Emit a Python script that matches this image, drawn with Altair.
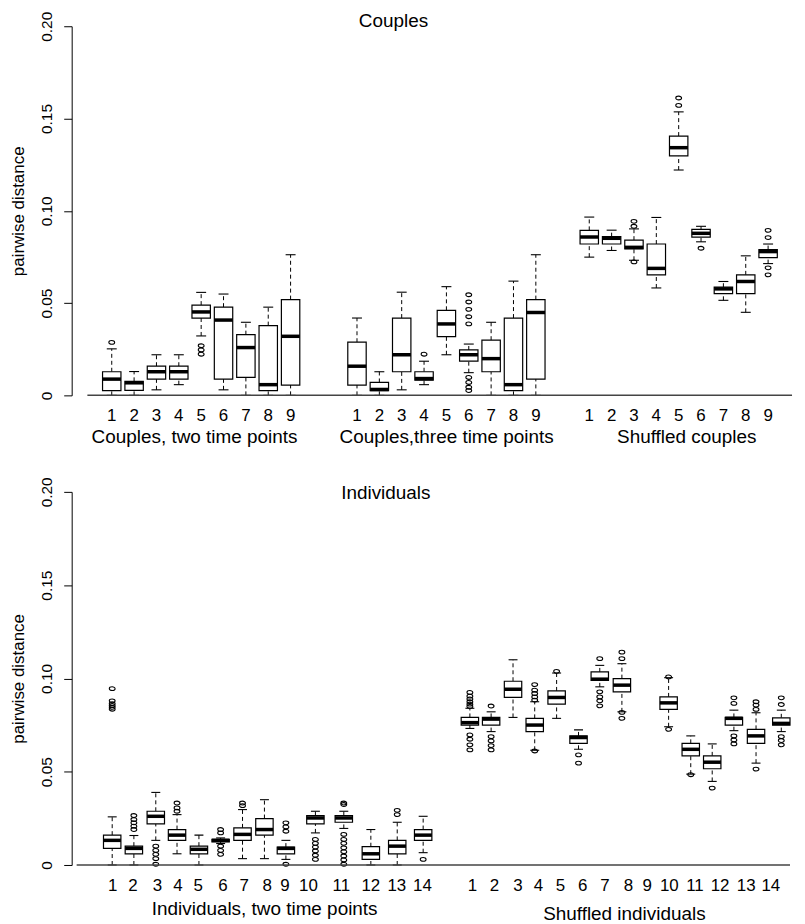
import altair as alt
import pandas as pd

FONT = "Liberation Sans"

# ---------------- Couples (top panel) ----------------
couples_title = "Couples"
couples_groups = ["Couples, two time points", "Couples,three time points", "Shuffled couples"]
couples_group_start = [1.57, 12.54, 22.93]      # position ("at") of item 1 in each group
couples_group_label_x = [5.27, 16.55, 27.29]
couples_items = [str(i) for i in range(1, 10)]

couples_lower = [0.0, 0.0, 0.003, 0.0058, 0.0322, 0.003, 0.0, 0.0, 0.0,
                 0.0, 0.0, 0.003, 0.0058, 0.022, 0.0123, 0.0, 0.0, 0.0,
                 0.0749, 0.0785, 0.0732, 0.0582, 0.1221, 0.0832, 0.0515, 0.045, 0.0714]
couples_q1 = [0.0026, 0.0027, 0.0088, 0.0088, 0.0419, 0.0088, 0.0097, 0.0026, 0.0056,
              0.0056, 0.0026, 0.0128, 0.0083, 0.0318, 0.0186, 0.0128, 0.0026, 0.0088,
              0.082, 0.082, 0.0793, 0.0653, 0.1298, 0.0857, 0.0551, 0.0551, 0.0746]
couples_median = [0.0088, 0.0068, 0.0128, 0.0128, 0.0452, 0.0408, 0.0259, 0.0058, 0.032,
                  0.0158, 0.0032, 0.022, 0.0091, 0.0387, 0.022, 0.0199, 0.0058, 0.0449,
                  0.0858, 0.0851, 0.0802, 0.0688, 0.1342, 0.0878, 0.0577, 0.0617, 0.0779]
couples_q3 = [0.0128, 0.0076, 0.0158, 0.0158, 0.0489, 0.0478, 0.0329, 0.0378, 0.0519,
              0.0288, 0.007, 0.0419, 0.0128, 0.0461, 0.0246, 0.0299, 0.0419, 0.0519,
              0.0894, 0.086, 0.0841, 0.082, 0.1405, 0.0899, 0.0586, 0.0653, 0.079]
couples_upper = [0.0252, 0.0129, 0.022, 0.022, 0.0558, 0.0549, 0.0396, 0.0478, 0.0762,
                 0.0419, 0.0128, 0.0559, 0.0185, 0.0589, 0.0278, 0.0396, 0.0619, 0.0762,
                 0.0966, 0.0895, 0.0902, 0.0964, 0.1536, 0.0916, 0.0617, 0.0756, 0.082]
couples_outliers = [[0.0287], [], [], [], [0.0269, 0.0246, 0.0223], [], [], [], [],
                    [], [], [], [0.0223], [],
                    [0.0097, 0.007, 0.0044, 0.0026, 0.0387, 0.0426, 0.0466, 0.0506, 0.0545],
                    [], [], [],
                    [], [], [0.0943, 0.0916, 0.0723], [], [0.1611, 0.1571], [0.0797], [], [],
                    [0.0894, 0.0855, 0.0691, 0.0653]]

# ---------------- Individuals (bottom panel) ----------------
indiv_title = "Individuals"
indiv_groups = ["Individuals, two time points", "Shuffled individuals"]
indiv_group_label_x = [8.41, 24.50]
indiv_items = [str(i) for i in range(1, 15)]
indiv_box_at = [1.59, 2.56, 3.54, 4.49, 5.47, 6.44, 7.42, 8.40, 9.36, 10.68, 11.95, 13.16, 14.34, 15.50,
                17.59, 18.54, 19.52, 20.49, 21.47, 22.45, 23.40, 24.39, 26.48, 27.47, 28.43, 29.40, 30.39, 31.52]
indiv_label_at = [1.61, 2.52, 3.61, 4.53, 5.44, 6.54, 7.49, 8.52, 9.32, 10.37, 11.84, 13.16, 14.32, 15.47,
                  17.70, 18.69, 19.74, 20.66, 21.64, 22.64, 23.63, 24.68, 25.52, 26.51, 27.66, 28.78, 29.95, 31.05]

indiv_lower = [0.0, 0.0, 0.0132, 0.006, 0.0, 0.0115, 0.0034, 0.0034, 0.003, 0.0172, 0.0196, 0.0, 0.0, 0.0066,
               0.0732, 0.0715, 0.0791, 0.0615, 0.0786, 0.062, 0.0955, 0.0821, 0.0741, 0.0487, 0.0448, 0.072, 0.0546, 0.0715]
indiv_q1 = [0.0089, 0.006, 0.022, 0.0132, 0.006, 0.0124, 0.0132, 0.016, 0.006, 0.022, 0.0229, 0.003, 0.006, 0.0132,
            0.075, 0.075, 0.0898, 0.0715, 0.0862, 0.0652, 0.099, 0.0928, 0.0834, 0.0585, 0.0516, 0.075, 0.0652, 0.075]
indiv_median = [0.0132, 0.0089, 0.0261, 0.016, 0.0084, 0.0132, 0.0164, 0.019, 0.0089, 0.0252, 0.0252, 0.006, 0.0101, 0.016,
                0.0763, 0.0782, 0.0942, 0.075, 0.0898, 0.0683, 0.0996, 0.0964, 0.0869, 0.062, 0.0551, 0.0786, 0.0692, 0.0759]
indiv_q3 = [0.016, 0.0101, 0.0288, 0.019, 0.0101, 0.0137, 0.0199, 0.0249, 0.0096, 0.0265, 0.0265, 0.0098, 0.0132, 0.019,
            0.0791, 0.0791, 0.0985, 0.0786, 0.0933, 0.0692, 0.1035, 0.0999, 0.0901, 0.0652, 0.0585, 0.0791, 0.0727, 0.0789]
indiv_upper = [0.0258, 0.0158, 0.0389, 0.027, 0.016, 0.0145, 0.0297, 0.035, 0.0132, 0.0288, 0.0288, 0.019, 0.0229, 0.0261,
               0.084, 0.0821, 0.11, 0.0875, 0.1029, 0.0724, 0.107, 0.1079, 0.1004, 0.0692, 0.0649, 0.083, 0.0816, 0.083]
indiv_outliers = [[0.0945, 0.088, 0.0865, 0.0855, 0.0845, 0.0835],
                  [0.0265, 0.0244, 0.0226, 0.0208, 0.019],
                  [0.0101, 0.0078, 0.0057, 0.0034, 0.0004],
                  [0.0332, 0.0306, 0.0288],
                  [],
                  [0.019, 0.0172, 0.0101, 0.0078, 0.0057],
                  [0.0332, 0.0318],
                  [],
                  [0.0226, 0.0204, 0.0181, 0.0004],
                  [0.0137, 0.0116, 0.0096, 0.0075, 0.0052, 0.003],
                  [0.0332, 0.0324, 0.0164, 0.0137, 0.0116, 0.0092, 0.0071, 0.0048, 0.0027, 0.0004],
                  [],
                  [0.0293, 0.027],
                  [0.003],
                  [0.0925, 0.0905, 0.089, 0.0875, 0.0862, 0.085, 0.0697, 0.0674, 0.0644, 0.0617],
                  [0.0852, 0.0688, 0.0665, 0.064, 0.0617],
                  [],
                  [0.0967, 0.0937, 0.0919, 0.0901, 0.0884, 0.0611],
                  [0.1038],
                  [0.059, 0.0546],
                  [0.1106, 0.0928, 0.0901, 0.088, 0.0853],
                  [0.1141, 0.1106, 0.0818, 0.0786],
                  [0.1008, 0.0727],
                  [0.0484],
                  [0.0412],
                  [0.0896, 0.0866, 0.0692, 0.067, 0.0649],
                  [0.0875, 0.0857, 0.0834, 0.0514],
                  [0.0896, 0.086, 0.0688, 0.0667, 0.0644]]

y_ticks = [0, 0.05, 0.10, 0.15, 0.20]

# ---------------- helpers ----------------
ELLIPSE = "M-1,0A1,0.65,0,1,1,1,0A1,0.65,0,1,1,-1,0Z"
X_DOMAIN = [0, 32.0]
PLOT_W = 729


def make_panel(pos, lower, q1, med, q3, upper, outliers, label_pos, labels,
               group_names, group_x, group_dy, title, title_x, title_dy,
               base_from, base_to, height, box_w, cap_w, tick_dy):
    xs = alt.Scale(domain=X_DOMAIN, nice=False, zero=False)
    ys = alt.Scale(domain=[0, 0.2], nice=False, zero=False)
    yaxis = alt.Axis(values=y_ticks,
                     labelExpr="datum.value == 0 ? '0' : format(datum.value, '.2f')",
                     labelAngle=270, labelAlign="center", labelBaseline="bottom",
                     labelFontSize=15.5, labelPadding=9, labelFont=FONT, labelColor="black",
                     tickSize=8, tickColor="black", domainColor="black", tickWidth=1, domainWidth=1,
                     grid=False, title="pairwise distance", titleFont=FONT, titleFontSize=17,
                     titleFontWeight="normal", titleColor="black", titlePadding=12,
                     labelOverlap=False, labelFlush=False)

    def X(f):
        return alt.X(f, type="quantitative", scale=xs, axis=None)

    def Y(f):
        return alt.Y(f, type="quantitative", scale=ys, axis=yaxis)

    box = pd.DataFrame({"pos": pos, "lower": lower, "q1": q1, "median": med,
                        "q3": q3, "upper": upper})
    out = pd.DataFrame([(p, v) for p, vals in zip(pos, outliers) for v in vals],
                       columns=["pos", "value"])
    ticks = pd.DataFrame({"pos": label_pos, "label": labels})
    base_df = pd.DataFrame({"x": [base_from], "x2": [base_to], "y": [0.0]})

    b = alt.Chart(box)
    layers = [
        b.mark_rule(color="black", strokeDash=[4, 3], strokeWidth=1).encode(
            x=X("pos"), y=Y("lower"), y2="q1:Q"),
        b.mark_rule(color="black", strokeDash=[4, 3], strokeWidth=1).encode(
            x=X("pos"), y=Y("q3"), y2="upper:Q"),
        b.mark_tick(orient="horizontal", size=cap_w, thickness=1.1, color="black", opacity=1).encode(
            x=X("pos"), y=Y("lower")),
        b.mark_tick(orient="horizontal", size=cap_w, thickness=1.1, color="black", opacity=1).encode(
            x=X("pos"), y=Y("upper")),
        b.mark_bar(size=box_w, fill="white", stroke="black", strokeWidth=1.2, opacity=1).encode(
            x=X("pos"), y=Y("q1"), y2="q3:Q"),
        b.mark_tick(orient="horizontal", size=box_w, thickness=3.5, color="black", opacity=1).encode(
            x=X("pos"), y=Y("median")),
        alt.Chart(out).mark_point(shape=ELLIPSE, size=34, filled=False, color="black",
                                  strokeWidth=1.1, opacity=1).encode(
            x=X("pos"), y=Y("value")),
        alt.Chart(base_df).mark_rule(color="#444444", strokeWidth=1.5).encode(
            x=X("x"), x2="x2:Q", y=Y("y")),
        alt.Chart(ticks).mark_text(font=FONT, fontSize=17, color="black", baseline="middle").encode(
            x=X("pos"), y=alt.value(height + tick_dy), text="label:N"),
        alt.Chart(pd.DataFrame({"pos": [title_x], "label": [title]})).mark_text(
            font=FONT, fontSize=19, color="black", baseline="middle").encode(
            x=X("pos"), y=alt.value(title_dy), text="label:N"),
    ]
    for gname, gx, gdy in zip(group_names, group_x, group_dy):
        layers.append(
            alt.Chart(pd.DataFrame({"pos": [gx], "label": [gname]})).mark_text(
                font=FONT, fontSize=19, color="black", baseline="middle").encode(
                x=X("pos"), y=alt.value(height + gdy), text="label:N"))
    return alt.layer(*layers).properties(width=PLOT_W, height=height)


couples_pos = [s + i for s in couples_group_start for i in range(len(couples_items))]
TOP_H = 371
top = make_panel(couples_pos, couples_lower, couples_q1, couples_median, couples_q3,
                 couples_upper, couples_outliers, couples_pos, couples_items * 3,
                 couples_groups, couples_group_label_x, [42.0, 42.0, 42.0],
                 couples_title, 14.17, -5.5, 0.48, 32.0, TOP_H, 18.5, 10, 21.0)

BOT_H = 375
bottom = make_panel(indiv_box_at, indiv_lower, indiv_q1, indiv_median, indiv_q3,
                    indiv_upper, indiv_outliers, indiv_label_at, indiv_items * 2,
                    indiv_groups, indiv_group_label_x, [44.5, 49.5],
                    indiv_title, 13.83, 1.3, 0.0, 31.91, BOT_H, 17.5, 9, 21.5)

chart = alt.vconcat(top, bottom, spacing=97, bounds="flush").properties(
    padding={"left": 2, "top": 0, "right": 0, "bottom": 0},
    background="white",
).configure_view(strokeWidth=0)

chart.save("out.html", embed_options={"renderer": "svg", "actions": False})
